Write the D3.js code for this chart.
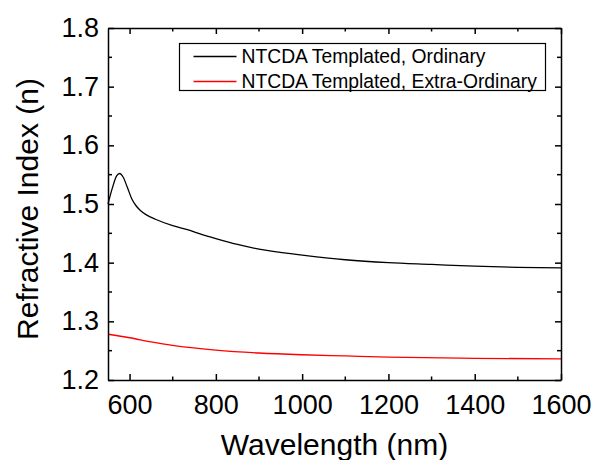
<!DOCTYPE html>
<html>
<head>
<meta charset="utf-8">
<script src="https://cdn.jsdelivr.net/npm/d3@7"></script>
<style>
  body { margin: 0; background: #fff; }
  svg { display: block; font-family: 'Liberation Sans', Arial, sans-serif; }
  .axis path, .axis line { stroke: #000; stroke-width: 1.5; }
</style>
</head>
<body>
<div class="container"><svg></svg></div>
<script>
// data
const wavelengths = [550, 560, 570, 577, 585, 595, 605, 615, 625, 640, 660, 700, 740, 760, 800, 850, 900, 1000, 1100, 1200, 1300, 1400, 1500, 1600]
const ordinary = [1.500, 1.527, 1.548, 1.552, 1.546, 1.528, 1.509, 1.497, 1.489, 1.481, 1.474, 1.463, 1.455, 1.450, 1.441, 1.431, 1.423, 1.413, 1.405, 1.400, 1.397, 1.394, 1.392, 1.391]
const redWavelengths = [550, 600, 650, 700, 800, 900, 1000, 1100, 1200, 1400, 1600]
const extraOrdinary = [1.278, 1.272, 1.265, 1.259, 1.251, 1.246, 1.243, 1.241, 1.239, 1.237, 1.236]
const xTicks = [600, 800, 1000, 1200, 1400, 1600]
const yTicks = [1.2, 1.3, 1.4, 1.5, 1.6, 1.7, 1.8]
const seriesNames = ['NTCDA Templated, Ordinary', 'NTCDA Templated, Extra-Ordinary']
const seriesColors = ['#000000', '#ff0000']

// dimensions
const W = 598
const H = 460
const margin = { top: 28, right: 37, bottom: 80, left: 108 }
const width = W - margin.left - margin.right
const height = H - margin.top - margin.bottom
const tickFont = '27px'
const titleFont = '30px'

const $svg = d3.select('svg').attr('width', W).attr('height', H)
const $g = $svg.append('g').attr('transform', `translate(${margin.left}, ${margin.top})`)

const scaleX = d3.scaleLinear().domain([550, 1600]).range([0, width])
const scaleY = d3.scaleLinear().domain([1.2, 1.8]).range([height, 0])

const xMinor = d3.range(700, 1600, 200)
const yMinor = d3.range(1.25, 1.8, 0.1)

function drawAxes(){
  // bottom
  const $bottom = $g.append('g').attr('class', 'axis')
    .attr('transform', `translate(0, ${height})`)
    .call(d3.axisBottom(scaleX).tickValues(xTicks).tickSize(-6).tickSizeOuter(0).tickPadding(15).tickFormat(d3.format('d')))
  $bottom.selectAll('text').style('font-size', tickFont).attr('fill', '#000')
  $bottom.selectAll('.minor').data(xMinor).enter().append('line')
    .attr('x1', d => scaleX(d)).attr('x2', d => scaleX(d)).attr('y1', 0).attr('y2', -3.5)

  // top
  const $top = $g.append('g').attr('class', 'axis')
    .call(d3.axisTop(scaleX).tickValues(xTicks).tickSize(-6).tickSizeOuter(0).tickFormat(''))
  $top.selectAll('.minor').data(xMinor).enter().append('line')
    .attr('x1', d => scaleX(d)).attr('x2', d => scaleX(d)).attr('y1', 0).attr('y2', 3.5)

  // left
  const $left = $g.append('g').attr('class', 'axis')
    .call(d3.axisLeft(scaleY).tickValues(yTicks).tickSize(-6).tickSizeOuter(0).tickPadding(9).tickFormat(d3.format('.1f')))
  $left.selectAll('text').style('font-size', tickFont).attr('fill', '#000')
  $left.selectAll('.minor').data(yMinor).enter().append('line')
    .attr('y1', d => scaleY(d)).attr('y2', d => scaleY(d)).attr('x1', 0).attr('x2', 4)

  // right
  const $right = $g.append('g').attr('class', 'axis')
    .attr('transform', `translate(${width}, 0)`)
    .call(d3.axisRight(scaleY).tickValues(yTicks).tickSize(-6).tickSizeOuter(0).tickFormat(''))
  $right.selectAll('.minor').data(yMinor).enter().append('line')
    .attr('y1', d => scaleY(d)).attr('y2', d => scaleY(d)).attr('x1', 0).attr('x2', -4)

  $g.selectAll('.axis line').attr('stroke', '#000')

  // titles
  $svg.append('text')
    .attr('x', margin.left + width / 2).attr('y', 455)
    .attr('text-anchor', 'middle')
    .style('font-size', titleFont)
    .text('Wavelength (nm)')

  $svg.append('text')
    .attr('transform', `translate(38, 209) rotate(-90)`)
    .attr('text-anchor', 'middle')
    .style('font-size', titleFont)
    .text('Refractive Index (n)')
}

function drawLines(){
  const line = d3.line()
    .x(d => scaleX(d[0]))
    .y(d => scaleY(d[1]))
    .curve(d3.curveMonotoneX)

  const series = [
    d3.zip(wavelengths, ordinary),
    d3.zip(redWavelengths, extraOrdinary)
  ]

  $g.selectAll('.series')
    .data(series)
    .enter()
    .append('path')
    .attr('class', 'series')
    .attr('d', line)
    .attr('fill', 'none')
    .attr('stroke', (d, i) => seriesColors[i])
    .attr('stroke-width', 1.3)
}

function drawLegend(){
  const $legend = $svg.append('g').attr('transform', 'translate(179.5, 43.5)')
  $legend.append('rect')
    .attr('width', 366).attr('height', 47)
    .attr('fill', '#fff').attr('stroke', '#000').attr('stroke-width', 1.2)

  const rows = $legend.selectAll('.row')
    .data(seriesNames)
    .enter()
    .append('g')
    .attr('transform', (d, i) => `translate(0, ${13 + i * 25})`)

  rows.append('line')
    .attr('x1', 14).attr('x2', 57)
    .attr('stroke', (d, i) => seriesColors[i])
    .attr('stroke-width', 1.3)

  rows.append('text')
    .attr('x', 62).attr('y', 6.8)
    .style('font-size', '19.3px')
    .text(d => d)
}

drawLines()
drawAxes()
drawLegend()
</script>
</body>
</html>
